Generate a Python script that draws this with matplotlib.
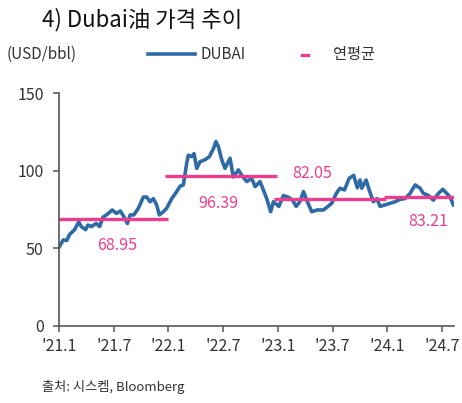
import matplotlib.pyplot as plt
from matplotlib.lines import Line2D

plt.rcParams['font.family'] = ['Noto Sans CJK KR', 'DejaVu Sans']

# x = months since Jan 2021
months = [0.03, 0.47, 0.84, 1.17, 1.71, 2.16, 2.45, 2.92, 3.17, 3.54, 4.09, 4.45, 4.82, 5.2,
          5.84, 6.28, 6.72, 7.0, 7.5, 7.8, 8.2, 8.7, 9.24, 9.62, 9.98, 10.34, 10.7, 11.0,
          11.44, 11.8, 12.36, 12.9, 13.27, 13.63, 14.0, 14.18, 14.55, 14.8, 15.1, 15.46,
          16.0, 16.48, 16.92, 17.2, 17.47, 17.84, 18.2, 18.75, 19.1, 19.66, 20.03, 20.58,
          21.13, 21.5, 22.04, 22.4, 22.77, 23.2, 23.5, 24.1, 24.6, 25.1, 25.6, 26.0,
          26.4, 26.8, 27.3, 27.7, 28.3, 29.0, 29.9, 30.4, 30.8, 31.3, 31.8,
          32.3, 32.7, 33.0, 33.19, 33.66, 34.0, 34.46, 34.84, 35.2, 35.75, 36.3, 36.84,
          37.4, 37.94, 38.49, 39.04, 39.58, 39.94, 40.5, 41.04, 41.6, 42.07, 42.5, 42.87, 43.23]
dubai = [51, 55.4, 55, 59, 62, 67, 64, 62, 65, 64, 66, 64, 70, 71.5,
         74.7, 72.5, 74, 71.5, 66, 71.5, 71.5, 75.8, 83, 83, 80, 82, 78, 71.5,
         73.6, 75.8, 82, 86.5, 90, 90.8, 104.8, 110, 109, 111, 101.5, 105.8,
         107, 109, 114, 118.7, 115.5, 107, 101.5, 108, 96, 100.5, 97, 93,
         95, 89.7, 93, 87.6, 82, 73.6, 80, 77, 84, 83, 81, 77,
         80, 86.5, 79, 73.6, 74.7, 74.7, 79, 85.4, 88.7, 87.6, 95,
         97, 89, 94, 88.7, 94, 87.6, 80, 82, 77, 78, 79, 80,
         81.6, 82, 85.4, 90.8, 88.7, 85.4, 84, 81, 85.4, 88, 85.4, 83, 78]

# yearly averages: value, start, end (months), label position
avg_vals = [68.95, 96.39, 82.05, 83.21]
avg_start = [-0.15, 11.6, 23.6, 35.6]
avg_end = [12.0, 23.9, 35.9, 43.6]
label_x = [6.36, 17.5, 27.8, 40.5]
label_y = [51.7, 79, 98.3, 67.2]

tick_pos = [0, 6, 12, 18, 24, 30, 36, 42]
tick_labels = ["'21.1", "'21.7", "'22.1", "'22.7", "'23.1", "'23.7", "'24.1", "'24.7"]

blue = '#2E6AA6'
pink = '#EB3D8F'
axis_col = '#555555'
text_col = '#333333'

fig = plt.figure(figsize=(4.62, 4.03), dpi=100)
ax = fig.add_axes([0.1277, 0.1911, 0.855, 0.5781])

ax.plot(months, dubai, color=blue, lw=2.6, solid_joinstyle='round', zorder=2)
for v, s, e, lx, ly in zip(avg_vals, avg_start, avg_end, label_x, label_y):
    ax.plot([s, e], [v, v], color=pink, lw=2.4, zorder=3, solid_capstyle='butt')
    ax.text(lx, ly, f'{v:.2f}', color=pink, fontsize=11.5, ha='center', va='center')

ax.set_xlim(0, 43.3)
ax.set_ylim(0, 150)
ax.set_yticks([0, 50, 100, 150])
ax.set_xticks(tick_pos)
ax.set_xticklabels(tick_labels)
for sp in ['top', 'right']:
    ax.spines[sp].set_visible(False)
for sp in ['left', 'bottom']:
    ax.spines[sp].set_color(axis_col)
    ax.spines[sp].set_linewidth(1.2)
ax.spines['left'].set_zorder(4)
ax.tick_params(axis='y', length=4, width=1.1, color=axis_col, pad=7,
               labelsize=11.5, labelcolor=text_col)
ax.tick_params(axis='x', length=4.5, width=1.1, color=axis_col, pad=4,
               labelsize=11.5, labelcolor=text_col)

# title, unit, legend, source
fig.text(0.091, 0.951, '4) Dubai油 가격 추이', fontsize=16, fontweight='medium',
         color='#111111', va='center', ha='left')
fig.text(0.015, 0.864, '(USD/bbl)', fontsize=11, color=text_col, va='center', ha='left')
fig.add_artist(Line2D([148 / 462, 195 / 462], [0.866, 0.866], color=blue, lw=2.6))
fig.text(200 / 462, 0.864, 'DUBAI', fontsize=11, color=text_col, va='center', ha='left')
fig.add_artist(Line2D([302 / 462, 308 / 462], [0.864, 0.864], color=pink, lw=2.4))
fig.text(333 / 462, 0.864, '연평균', fontsize=11, color=text_col, va='center', ha='left')
fig.text(0.091, 0.04, '출처: 시스켐, Bloomberg', fontsize=9.5, color=text_col,
         va='center', ha='left')

fig.savefig('out.png', dpi=100)
